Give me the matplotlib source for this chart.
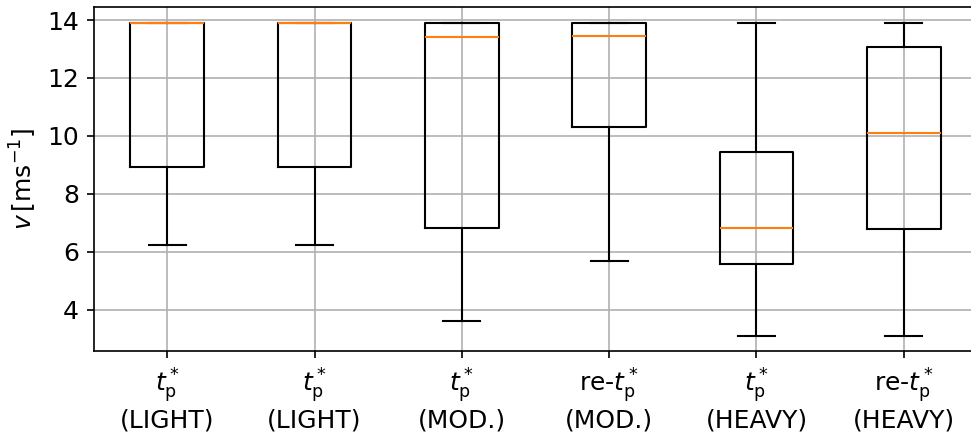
import numpy as np
from matplotlib import pyplot as plt

# values (speed, m/s)
labels = [
    "$t_\\mathrm{p}^*$\n(LIGHT)",
    "$t_\\mathrm{p}^*$\n(LIGHT)",
    "$t_\\mathrm{p}^*$\n(MOD.)",
    "re-$t_\\mathrm{p}^*$\n(MOD.)",
    "$t_\\mathrm{p}^*$\n(HEAVY)",
    "re-$t_\\mathrm{p}^*$\n(HEAVY)",
]
medians = [13.91, 13.91, 13.43, 13.46, 6.83, 10.11]
q1 = [8.92, 8.92, 6.82, 10.29, 5.58, 6.78]
q3 = [13.91, 13.91, 13.91, 13.91, 9.43, 13.06]
whislo = [6.23, 6.23, 3.59, 5.69, 3.10, 3.10]
whishi = [13.91, 13.91, 13.91, 13.91, 13.91, 13.91]

plt.rcParams["font.size"] = 12

stats = []
for i in range(len(labels)):
    stats.append({
        "med": medians[i], "q1": q1[i], "q3": q3[i],
        "whislo": whislo[i], "whishi": whishi[i], "fliers": [],
    })

# the original was cropped tight, right spine falls just outside the image
fig = plt.figure(figsize=(971 / 150, 432 / 150), dpi=150)
ax = fig.add_axes([93.5 / 971, 80.7 / 432, 884 / 971, 344.3 / 432])
ax.bxp(stats, showfliers=False)
ax.set_xticks(np.arange(1, len(labels) + 1))
ax.set_xticklabels(labels)
ax.set_ylabel("$v\\,[\\mathrm{ms}^{-1}]$")
ax.grid(True)
ax.set_axisbelow(True)

fig.savefig("out.png", dpi=150)
